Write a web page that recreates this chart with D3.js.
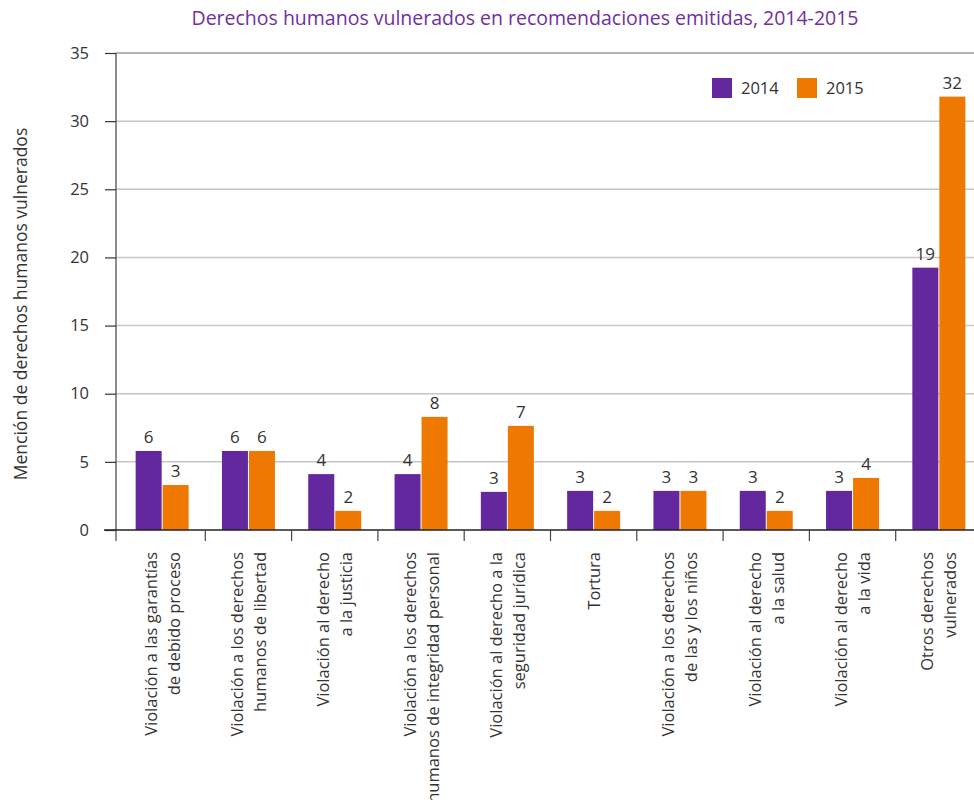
<!DOCTYPE html>
<html><head><meta charset="utf-8">
<script src="https://cdn.jsdelivr.net/npm/d3@7"></script>
<style>
body{margin:0;background:#fff;}
text{font-family:"Open Sans","Noto Sans",sans-serif;}
</style></head>
<body><svg id="c" width="974" height="800"></svg>
<script>
const categories = [
  ["Violación a las garantías","de debido proceso"],
  ["Violación a los derechos","humanos de libertad"],
  ["Violación al derecho","a la justicia"],
  ["Violación a los derechos","humanos de integridad personal"],
  ["Violación al derecho a la","seguridad jurídica"],
  ["Tortura"],
  ["Violación a los derechos","de las y los niños"],
  ["Violación al derecho","a la salud"],
  ["Violación al derecho","a la vida"],
  ["Otros derechos","vulnerados"]
];
const series = ["2014","2015"];
const values2014 = [5.8, 5.8, 4.1, 4.1, 2.8, 2.87, 2.87, 2.87, 2.87, 19.25];
const values2015 = [3.3, 5.8, 1.4, 8.3, 7.64, 1.4, 2.87, 1.4, 3.82, 31.8];
const labels2014 = ["6","6","4","4","3","3","3","3","3","19"];
const labels2015 = ["3","6","2","8","7","2","3","2","4","32"];
const yTicks = [0,5,10,15,20,25,30,35];
const colors = ["#63289d","#ef7800"];
const title = "Derechos humanos vulnerados en recomendaciones emitidas, 2014-2015";
const yTitle = "Mención de derechos humanos vulnerados";

const svg = d3.select("#c");
const axisX = 116, y0px = 530, yTop = 53;
const y = d3.scaleLinear().domain([0,35]).range([y0px, yTop]);
const x0 = d3.scaleBand().domain(d3.range(categories.length)).range([119, 982]);
const bw = x0.bandwidth();
const x1 = d3.scaleBand().domain(series).range([bw/2-26.5, bw/2+27.5]);

// title
svg.append("text").attr("x",525).attr("y",25).attr("text-anchor","middle")
  .attr("font-size",19.5).attr("fill","#7030a0").text(title);

// gridlines
svg.append("g").selectAll("line").data(yTicks.filter(d=>d>0)).join("line")
  .attr("x1",axisX).attr("x2",974).attr("y1",d=>y(d)).attr("y2",d=>y(d))
  .attr("stroke",d=>d===35?"#9a9a9a":"#c6c6c6").attr("stroke-width",1.5);

// y axis
const yAxis = svg.append("g").attr("transform",`translate(${axisX},0)`)
  .call(d3.axisLeft(y).tickValues(yTicks).tickSize(11).tickPadding(16));
yAxis.select(".domain").attr("stroke","#666").attr("stroke-width",1.5).attr("d",`M0,${yTop}V${y0px}`);
yAxis.selectAll(".tick line").attr("stroke","#333").attr("stroke-width",1.2);
yAxis.selectAll(".tick text").attr("font-size",16.5).attr("fill","#333")
  .attr("font-family","'Open Sans','Noto Sans',sans-serif");

// y title
svg.append("text").attr("transform","translate(27,304) rotate(-90)").attr("text-anchor","middle")
  .attr("font-size",17.5).attr("fill","#333").text(yTitle);

// bars
const data = categories.map((c,i)=>({i, vals:[values2014[i],values2015[i]], labs:[labels2014[i],labels2015[i]]}));
const g = svg.append("g").selectAll("g").data(data).join("g")
  .attr("transform",d=>`translate(${x0(d.i)},0)`);
g.selectAll("rect").data(d=>series.map((s,k)=>({s,k,v:d.vals[k]}))).join("rect")
  .attr("x",d=>x1(d.s)).attr("width",x1.bandwidth()-1)
  .attr("y",d=>y(d.v)).attr("height",d=>y0px-y(d.v)).attr("fill",d=>colors[d.k]);
g.selectAll("text.v").data(d=>series.map((s,k)=>({s,k,v:d.vals[k],l:d.labs[k]}))).join("text")
  .attr("class","v").attr("x",d=>x1(d.s)+(x1.bandwidth()-1)/2).attr("y",d=>y(d.v)-8)
  .attr("text-anchor","middle").attr("font-size",17).attr("fill","#333").text(d=>d.l);

// x baseline
svg.append("line").attr("x1",104).attr("x2",974).attr("y1",y0px).attr("y2",y0px)
  .attr("stroke","#222").attr("stroke-width",1.5);
// category ticks
const tickXs = [axisX].concat(d3.range(1,categories.length).map(i=>x0(i)));
svg.append("g").selectAll("line").data(tickXs).join("line")
  .attr("x1",d=>d).attr("x2",d=>d).attr("y1",y0px).attr("y2",y0px+11)
  .attr("stroke","#444").attr("stroke-width",1.2);

// x labels
const xl = svg.append("g").selectAll("g").data(categories).join("g")
  .attr("transform",(d,i)=>`translate(${x0(i)+bw/2},552) rotate(-90)`);
xl.selectAll("text").data(d=>d.map((t,k)=>({t,k,n:d.length}))).join("text")
  .attr("x",0).attr("y",d=>(d.n===1?0:(d.k===0?-11.5:11.5))+6)
  .attr("text-anchor","end").attr("font-size",16.5).attr("fill","#333").text(d=>d.t);

// legend
const leg = svg.append("g");
const legX = [712,797];
series.forEach((s,k)=>{
  leg.append("rect").attr("x",legX[k]).attr("y",78).attr("width",20).attr("height",20).attr("fill",colors[k]);
  leg.append("text").attr("x",legX[k]+29).attr("y",94).attr("font-size",16.5).attr("fill","#333").text(s);
});
</script></body></html>
